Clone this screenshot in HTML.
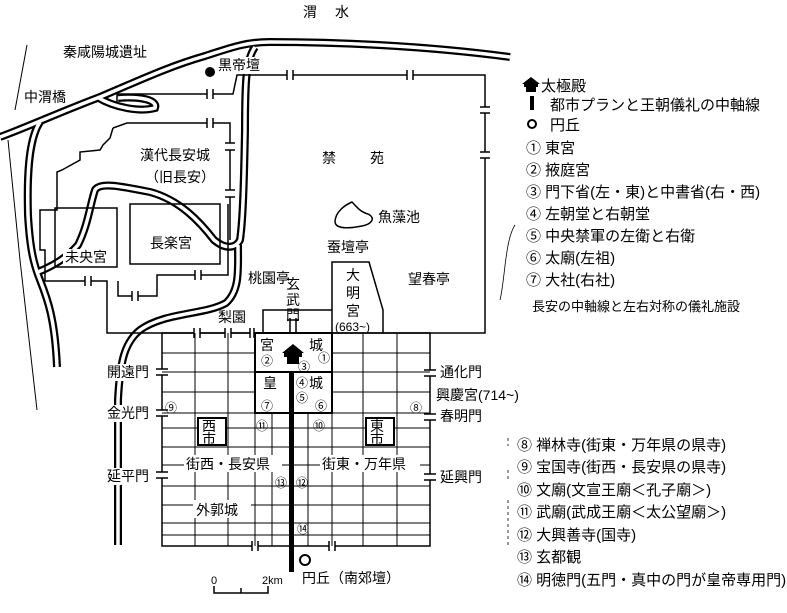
<!DOCTYPE html>
<html><head><meta charset="utf-8"><style>
html,body{margin:0;padding:0;background:#fff}
svg{display:block}
text{font-family:"Liberation Sans","Noto Sans CJK JP",sans-serif;fill:#000}
</style></head><body>
<svg width="787" height="613" viewBox="0 0 787 613" xmlns="http://www.w3.org/2000/svg">
<g fill="none" stroke="#000" stroke-linecap="butt">
<path d="M27,45 L15,110" stroke-width="1"/>
<path d="M8,140 L20,260 L37,410" stroke-width="1"/>
<g stroke-width="8">
<path d="M0,137 C30,126 60,112 100,97 C140,80 170,66 205,56 C230,48 245,42 270,42 C330,42 420,45 510,57"/>
<path d="M40,122 C28,140 27,180 28,215 C30,250 34,265 40,280 C48,300 55,320 57,367"/>
<path d="M255,47 C246,60 245,80 245,130 C244,180 243,220 240,240 C236,248 226,250 214,240 C200,222 180,200 150,192 C120,186 100,182 95,190 C90,205 88,225 78,245 C65,260 48,268 38,272"/>
<path d="M238,245 C238,270 240,290 226,303 C205,315 165,312 140,330 C125,342 120,360 118,400 L118,545"/>
<path d="M97,97 C115,108 140,112 155,108 C158,100 140,96 118,98"/>
</g>
<g stroke="#fff" stroke-width="3.5">
<path d="M0,137 C30,126 60,112 100,97 C140,80 170,66 205,56 C230,48 245,42 270,42 C330,42 420,45 510,57"/>
<path d="M40,122 C28,140 27,180 28,215 C30,250 34,265 40,280 C48,300 55,320 57,367"/>
<path d="M255,47 C246,60 245,80 245,130 C244,180 243,220 240,240 C236,248 226,250 214,240 C200,222 180,200 150,192 C120,186 100,182 95,190 C90,205 88,225 78,245 C65,260 48,268 38,272"/>
<path d="M238,245 C238,270 240,290 226,303 C205,315 165,312 140,330 C125,342 120,360 118,400 L118,545"/>
<path d="M97,97 C115,108 140,112 155,108 C158,100 140,96 118,98"/>
</g>
<g stroke-width="1.5">
<path d="M117,103 L117,94 L233,94 L237,75 L485,75 L485,333 L107,333 L107,281 L45,281 L45,250 L40,250 L40,210 L57,210 L57,172 L62,170 L80,160 L80,152 L100,150 L103,145 L110,138 L113,128"/>
<path d="M113,128 L127,123 L150,123 L230,123 L230,240"/>
<path d="M118,281 L118,296 L157,296 L157,275 L228,275 L228,204"/>
<rect x="55" y="208" width="62" height="59"/>
<rect x="130" y="204" width="90" height="60"/>
<path d="M332,333 L332,262 L369,262 L383,310 L383,333"/>
<path d="M263,333 L263,310 L332,310"/>
<path d="M352,202 C345,205 335,212 335,222 C336,230 352,228 362,226 C372,224 376,218 368,214 C360,212 356,206 352,202 Z"/>
<rect x="162" y="333" width="268" height="213"/>
<rect x="255" y="333" width="77" height="80" stroke-width="2"/>
<line x1="255" y1="372" x2="332" y2="372" stroke-width="2"/>
</g>
<g stroke="#fff" stroke-width="5">
<line x1="287" y1="75" x2="293" y2="75"/><line x1="407" y1="75" x2="413" y2="75"/>
<line x1="485" y1="107" x2="485" y2="113"/><line x1="485" y1="152" x2="485" y2="158"/>
<line x1="207" y1="94" x2="213" y2="94"/><line x1="207" y1="123" x2="213" y2="123"/>
<line x1="230" y1="143" x2="230" y2="150"/><line x1="230" y1="190" x2="230" y2="197"/>
<line x1="85" y1="281" x2="91" y2="281"/><line x1="132" y1="296" x2="138" y2="296"/><line x1="195" y1="275" x2="201" y2="275"/>
<line x1="162" y1="369" x2="162" y2="375"/><line x1="162" y1="410" x2="162" y2="416"/><line x1="162" y1="472" x2="162" y2="478"/>
<line x1="430" y1="370" x2="430" y2="376"/><line x1="430" y1="414" x2="430" y2="420"/><line x1="430" y1="474" x2="430" y2="480"/>
<line x1="252" y1="546" x2="258" y2="546"/><line x1="329" y1="546" x2="335" y2="546"/>
<line x1="194" y1="333" x2="200" y2="333"/><line x1="225" y1="333" x2="231" y2="333"/><line x1="250" y1="333" x2="254" y2="333"/>
</g>
<g stroke="#000" stroke-width="1.5">
<path d="M287,70v10M293,70v10M407,70v10M413,70v10"/>
<path d="M480,107h10M480,113h10M480,152h10M480,158h10"/>
<path d="M207,89v10M213,89v10M207,118v10M213,118v10"/>
<path d="M225,143h10M225,150h10M225,190h10M225,197h10"/>
<path d="M85,276v10M91,276v10M132,291v10M138,291v10M195,270v10M201,270v10"/>
<path d="M156,369h12M156,375h12M156,410h12M156,416h12M156,472h12M156,478h12"/>
<path d="M424,370h12M424,376h12M424,414h12M424,420h12M424,474h12M424,480h12"/>
<path d="M252,541v10M258,541v10M329,541v10M335,541v10"/>
<path d="M194,328v10M200,328v10M225,328v10M231,328v10M250,328v10M254,328v10"/>
<path d="M290,318v15M296,318v15M287,320h12"/>
</g>
<g stroke="#000" stroke-width="1">
<path d="M162,353H255M332,353H430M162,372H255M332,372H430M162,392H255M332,392H430M162,413H430M162,428H430M162,447H430M162,465H430M162,486H430M162,505H430M162,523H430M162,535H430"/>
<path d="M195,333V546M228,333V546M255,413V546M272,413V546M308,413V546M332,413V546M363,333V546M397,333V546"/>
</g>
<line x1="291.5" y1="372" x2="291.5" y2="572" stroke="#000" stroke-width="5"/>
<rect x="198" y="418" width="28" height="27" fill="#fff" stroke="#000" stroke-width="2"/>
<rect x="366" y="418" width="28" height="27" fill="#fff" stroke="#000" stroke-width="2"/>
<circle cx="305" cy="560" r="5" stroke="#000" stroke-width="2"/>
<path d="M214,586v7h54v-7M241,588v5" stroke="#000" stroke-width="1.5"/>
<path d="M508,438v8M508,470v10M508,500v45" stroke="#000" stroke-width="0.8" stroke-dasharray="3,3"/>
<path d="M500,300 C505,280 505,240 515,225" stroke="#000" stroke-width="0.8"/>
<circle cx="532" cy="124" r="4" stroke="#000" stroke-width="2"/>
</g>
<g fill="#000">
<path d="M282,353 L293,344 L304,353 Z"/><rect x="284" y="353" width="18" height="4"/><rect x="287" y="357" width="12" height="7"/>
<path d="M522,84 L531,77 L540,84 Z"/><rect x="524" y="84" width="14" height="3"/><rect x="526" y="87" width="10" height="5"/>
<rect x="530" y="96" width="4" height="14"/>
<circle cx="210" cy="72" r="5"/>
</g>
<g fill="#fff">
<rect x="184" y="455" width="98" height="17"/><rect x="320" y="455" width="100" height="17"/>
<rect x="193" y="500" width="58" height="18"/>
<rect x="106" y="364" width="46" height="17"/><rect x="106" y="405" width="46" height="17"/><rect x="106" y="468" width="46" height="17"/>
<rect x="217" y="57" width="46" height="17"/>
<rect x="63" y="249" width="46" height="17"/>
</g>
<g font-size="14">
<text x="303" y="17">渭</text><text x="335" y="17">水</text>
<text x="63" y="57">秦咸陽城遺址</text>
<text x="24" y="102">中渭橋</text>
<text x="218" y="70">黒帝壇</text>
<text x="140" y="160">漢代長安城</text>
<text x="145" y="182">（旧長安）</text>
<text x="322" y="163">禁</text><text x="370" y="163">苑</text>
<text x="378" y="222">魚藻池</text>
<text x="327" y="252">蚕壇亭</text>
<text x="408" y="284">望春亭</text>
<text x="248" y="283">桃園亭</text>
<text x="286" y="289">玄</text><text x="286" y="305">武</text><text x="286" y="320">門</text>
<text x="218" y="322">梨園</text>
<text x="346" y="280">大</text><text x="346" y="298">明</text><text x="346" y="316">宮</text>
<text x="335" y="331" font-size="12">(663~)</text>
<text x="65" y="262">未央宮</text>
<text x="150" y="248">長楽宮</text>
<text x="260" y="350">宮</text><text x="309" y="350">城</text>
<text x="263" y="388">皇</text><text x="309" y="388">城</text>
<text x="202" y="431">西</text><text x="202" y="444">市</text>
<text x="370" y="431">東</text><text x="370" y="444">市</text>
<text x="186" y="469">街西・長安県</text>
<text x="322" y="469">街東・万年県</text>
<text x="196" y="515">外郭城</text>
<text x="107" y="377">開遠門</text>
<text x="107" y="418">金光門</text>
<text x="107" y="481">延平門</text>
<text x="440" y="377">通化門</text>
<text x="436" y="400">興慶宮(714~)</text>
<text x="440" y="421">春明門</text>
<text x="440" y="482">延興門</text>
<text x="302" y="583">円丘（南郊壇）</text>
</g>
<g font-size="12">
<text x="261" y="365">②</text><text x="318" y="362">①</text><text x="298" y="371">③</text>
<text x="296" y="387">④</text><text x="296" y="402">⑤</text><text x="315" y="410">⑥</text>
<text x="261" y="410">⑦</text><text x="256" y="430">⑪</text><text x="313" y="430">⑩</text>
<text x="410" y="412">⑧</text><text x="165" y="412">⑨</text>
<text x="275" y="487">⑬</text><text x="296" y="487">⑫</text><text x="297" y="533">⑭</text>
<text x="211" y="584" font-size="11">0</text><text x="262" y="584" font-size="11">2km</text>
</g>
<g font-size="15">
<text x="541" y="91">太極殿</text>
<text x="550" y="110">都市プランと王朝儀礼の中軸線</text>
<text x="550" y="130">円丘</text>
<text x="526" y="153">① 東宮</text>
<text x="526" y="175">② 掖庭宮</text>
<text x="526" y="197">③ 門下省(左・東)と中書省(右・西)</text>
<text x="526" y="219">④ 左朝堂と右朝堂</text>
<text x="526" y="241">⑤ 中央禁軍の左衛と右衛</text>
<text x="526" y="263">⑥ 太廟(左祖)</text>
<text x="526" y="285">⑦ 大社(右社)</text>
<text x="532" y="311" font-size="13">長安の中軸線と左右対称の儀礼施設</text>
<text x="517" y="450">⑧ 禅林寺(街東・万年県の県寺)</text>
<text x="517" y="472">⑨ 宝国寺(街西・長安県の県寺)</text>
<text x="517" y="495">⑩ 文廟(文宣王廟＜孔子廟＞)</text>
<text x="517" y="517">⑪ 武廟(武成王廟＜太公望廟＞)</text>
<text x="517" y="540">⑫ 大興善寺(国寺)</text>
<text x="517" y="562">⑬ 玄都観</text>
<text x="517" y="585">⑭ 明徳門(五門・真中の門が皇帝専用門)</text>
</g>
</svg>
</body></html>
